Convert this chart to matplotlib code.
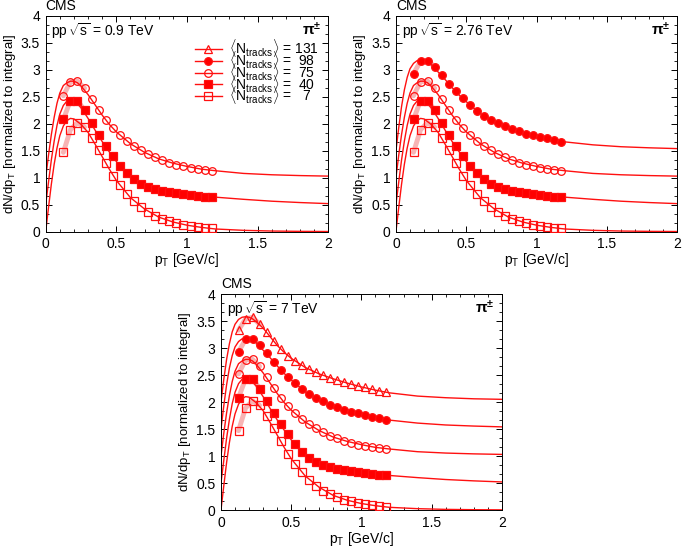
import matplotlib
matplotlib.use("Agg")
import matplotlib.pyplot as plt
from matplotlib.lines import Line2D
from matplotlib.ticker import MultipleLocator, FuncFormatter

plt.rcParams['font.family'] = ['Liberation Sans', 'DejaVu Sans']
plt.rcParams['mathtext.fontset'] = 'custom'
plt.rcParams['mathtext.rm'] = 'Liberation Sans'
plt.rcParams['mathtext.it'] = 'Liberation Sans:italic'
plt.rcParams['mathtext.bf'] = 'Liberation Sans:bold'

# data point pT positions (GeV/c)
pt = [0.125, 0.175, 0.225, 0.275, 0.325, 0.375, 0.425, 0.475, 0.525, 0.575, 0.625,
      0.675, 0.725, 0.775, 0.825, 0.875, 0.925, 0.975, 1.025, 1.075, 1.125, 1.175]

# displayed values (each series already shifted by its offset)
n131 = [3.33, 3.54, 3.57, 3.44, 3.29, 3.13, 2.98, 2.86, 2.76, 2.68, 2.61,
        2.55, 2.50, 2.45, 2.41, 2.37, 2.34, 2.30, 2.27, 2.24, 2.21, 2.18]
n98 = [2.93, 3.16, 3.17, 3.06, 2.90, 2.74, 2.60, 2.47, 2.35, 2.24, 2.15,
       2.07, 2.01, 1.95, 1.90, 1.86, 1.82, 1.79, 1.76, 1.73, 1.70, 1.67]
n75 = [2.52, 2.78, 2.79, 2.66, 2.46, 2.26, 2.07, 1.92, 1.79, 1.68, 1.59,
       1.51, 1.44, 1.38, 1.33, 1.28, 1.24, 1.21, 1.18, 1.16, 1.14, 1.13]
n40 = [2.08, 2.43, 2.43, 2.25, 2.02, 1.80, 1.59, 1.40, 1.22, 1.08, 0.97,
       0.89, 0.83, 0.79, 0.76, 0.74, 0.72, 0.70, 0.68, 0.67, 0.65, 0.64]
n7 = [1.47, 1.89, 2.02, 1.94, 1.74, 1.51, 1.27, 1.04, 0.86, 0.70, 0.56,
      0.45, 0.36, 0.29, 0.24, 0.19, 0.16, 0.13, 0.11, 0.09, 0.07, 0.06]

# fit curves
fit_pt = [0, 0.02, 0.04, 0.06, 0.08, 0.1, 0.125, 0.15, 0.175, 0.2, 0.225, 0.25, 0.3,
          0.35, 0.4, 0.45, 0.5, 0.6, 0.7, 0.8, 0.9, 1.0, 1.1, 1.2, 1.4, 1.6, 1.8, 2.0]
fit131 = [2.0, 2.42, 2.79, 3.08, 3.30, 3.44, 3.53, 3.57, 3.58, 3.57, 3.54, 3.49, 3.37,
          3.21, 3.05, 2.92, 2.81, 2.64, 2.52, 2.43, 2.35, 2.28, 2.22, 2.17, 2.11, 2.08, 2.06, 2.05]
fit98 = [1.5, 1.93, 2.32, 2.63, 2.86, 3.02, 3.12, 3.17, 3.19, 3.18, 3.15, 3.10, 2.96,
         2.82, 2.67, 2.53, 2.41, 2.19, 2.04, 1.93, 1.84, 1.77, 1.71, 1.665, 1.61, 1.575, 1.555, 1.54]
fit75 = [1.0, 1.42, 1.80, 2.12, 2.38, 2.57, 2.71, 2.76, 2.79, 2.79, 2.76, 2.70, 2.54,
         2.35, 2.16, 1.99, 1.85, 1.63, 1.47, 1.35, 1.27, 1.21, 1.16, 1.13, 1.08, 1.055, 1.04, 1.03]
fit40 = [0.5, 0.92, 1.33, 1.68, 1.97, 2.18, 2.34, 2.42, 2.44, 2.42, 2.37, 2.30, 2.10,
         1.88, 1.67, 1.48, 1.30, 1.02, 0.86, 0.775, 0.73, 0.695, 0.665, 0.64, 0.60, 0.565, 0.54, 0.52]
fit7 = [0.0, 0.45, 0.88, 1.25, 1.55, 1.78, 1.96, 2.06, 2.10, 2.09, 2.04, 1.99, 1.84,
        1.62, 1.39, 1.16, 0.95, 0.63, 0.42, 0.27, 0.18, 0.12, 0.08, 0.05, 0.025, 0.012, 0.006, 0.003]

labels = ['131', '98', '75', '40', '7']
series = {'131': (n131, fit131, '^', 'none'),
          '98': (n98, fit98, 'o', 'red'),
          '75': (n75, fit75, 'o', 'none'),
          '40': (n40, fit40, 's', 'red'),
          '7': (n7, fit7, 's', 'none')}

panels = [
    ('0.9', ['75', '40', '7'], [0.0667, 0.578, 0.4126, 0.393]),
    ('2.76', ['98', '75', '40', '7'], [0.578, 0.578, 0.4107, 0.393]),
    ('7', ['131', '98', '75', '40', '7'], [0.3226, 0.071, 0.410, 0.3934]),
]

RED = '#ff1010'
PINK = '#f7b4b4'

fig = plt.figure(figsize=(6.85, 5.49), dpi=100)
fmt = FuncFormatter(lambda v, p: ('%g' % round(v, 3)))

for energy, present, rect in panels:
    ax = fig.add_axes(rect)
    for key in present:
        vals, fit, mk, fc = series[key]
        ax.plot(pt[:4], vals[:4], color=PINK, lw=3.5, solid_capstyle='round', zorder=1)
        ax.plot(fit_pt, fit, color=RED, lw=1.0, zorder=2)
        ax.plot(pt, vals, ls='none', marker=mk, ms=5.5, mfc=fc, mec=RED, mew=0.9, zorder=3)
    ax.set_xlim(0, 2)
    ax.set_ylim(0, 4)
    ax.xaxis.set_major_locator(MultipleLocator(0.5))
    ax.xaxis.set_minor_locator(MultipleLocator(0.1))
    ax.yaxis.set_major_locator(MultipleLocator(0.5))
    ax.yaxis.set_minor_locator(MultipleLocator(0.5 / 3))
    ax.xaxis.set_major_formatter(fmt)
    ax.yaxis.set_major_formatter(fmt)
    ax.tick_params(which='both', direction='in', top=True, right=True, labelsize=10)
    ax.tick_params(axis='y', which='major', pad=4)
    ax.tick_params(axis='x', which='major', pad=4)
    ax.tick_params(which='major', length=4, width=0.7)
    ax.tick_params(which='minor', length=2, width=0.6)
    for s in ax.spines.values():
        s.set_linewidth(0.7)
    ax.set_xlabel(r'p$_{\rm T}$ [GeV/c]', fontsize=10, labelpad=0)
    ax.set_ylabel(r'dN/dp$_{\rm T}$ [normalized to integral]', fontsize=9.5, labelpad=2)
    ax.text(0.0, 1.015, 'CMS', transform=ax.transAxes, fontsize=10, ha='left', va='bottom')
    ax.text(0.02, 0.975, r'pp$\,\sqrt{\rm s}$ = %s TeV' % energy, transform=ax.transAxes,
            fontsize=10, ha='left', va='top')
    ax.text(0.975, 0.975, r'$\mathbf{\pi^{\pm}}$', transform=ax.transAxes,
            fontsize=11, ha='right', va='top')
    if energy == '0.9':
        handles = []
        for key in labels:
            vals, fit, mk, fc = series[key]
            handles.append(Line2D([], [], color=RED, lw=1.0, marker=mk, ms=5.5, mfc=fc,
                                  mec=RED, mew=0.9))
        texts = [r'$\langle$N$_{\rm tracks}\rangle$ = %s' % k.rjust(3) for k in labels]
        ax.legend(handles, texts, loc='upper right', bbox_to_anchor=(0.965, 0.9),
                  frameon=False, fontsize=10, handlelength=2.0, handletextpad=0.45,
                  labelspacing=-0.74, borderpad=0.0, borderaxespad=0.0)

fig.savefig('out.png', dpi=100)
